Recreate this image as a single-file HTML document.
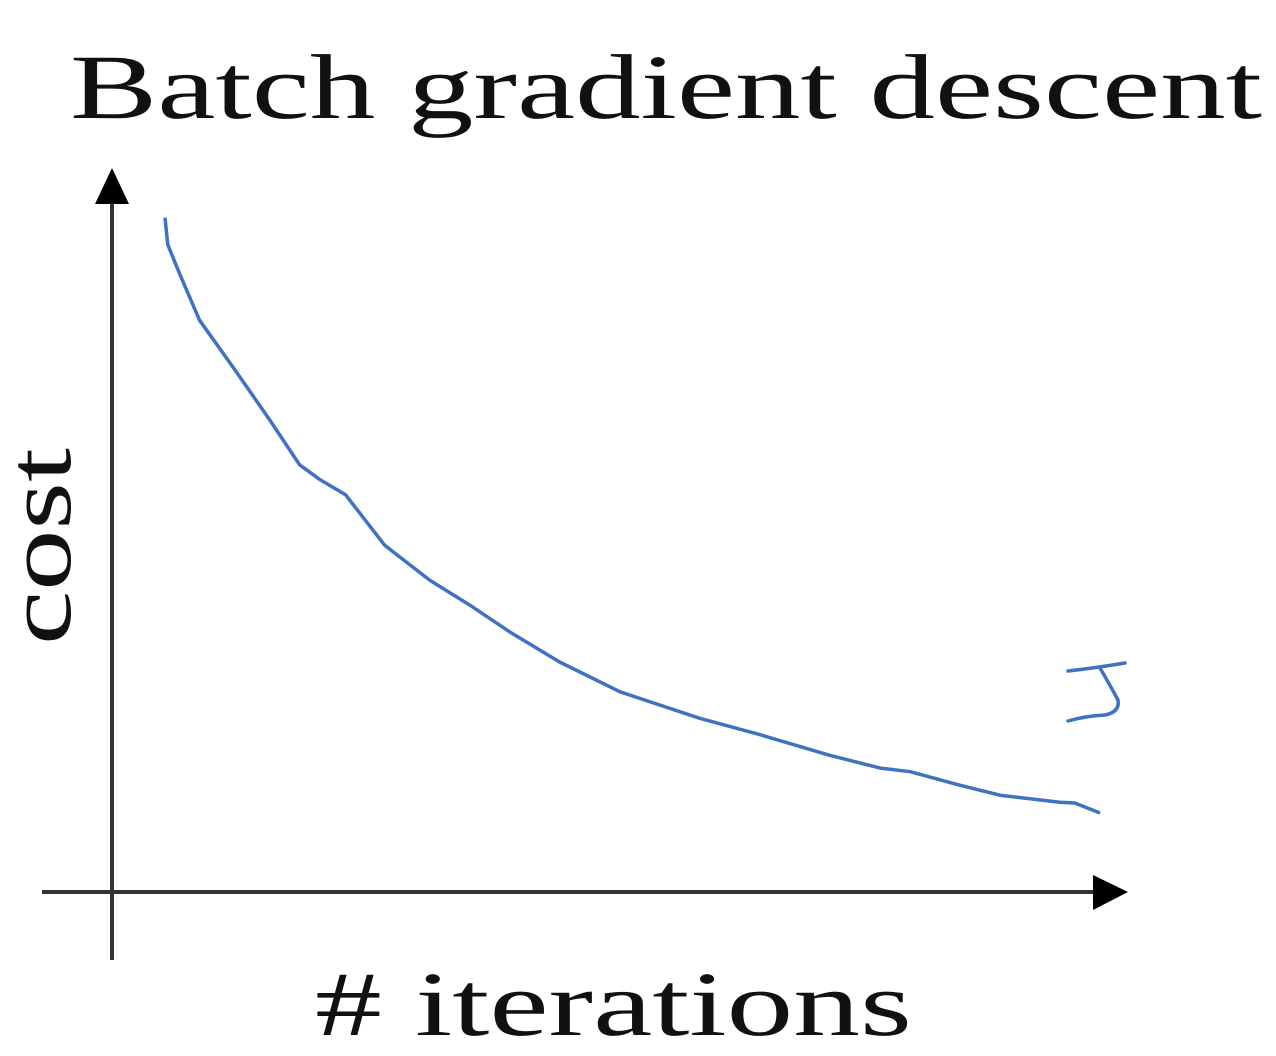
<!DOCTYPE html>
<html><head><meta charset="utf-8"><style>
html,body{margin:0;padding:0;background:#fff;}
svg{display:block;}
text{font-family:"Liberation Serif",serif;fill:#111;}
</style></head><body>
<svg width="1276" height="1056" viewBox="0 0 1276 1056">
<text x="70" y="118" font-size="92" textLength="1192" lengthAdjust="spacingAndGlyphs">Batch gradient descent</text>
<line x1="112" y1="200" x2="112" y2="960" stroke="#333" stroke-width="4"/>
<polygon points="112,168 95,204 129,204" fill="#000"/>
<line x1="42" y1="892" x2="1096" y2="892" stroke="#333" stroke-width="4"/>
<polygon points="1128,892 1093,875 1093,910" fill="#000"/>
<text transform="translate(70,645) rotate(-90)" font-size="92" textLength="197" lengthAdjust="spacingAndGlyphs">cost</text>
<text x="315" y="1035" font-size="92" textLength="597" lengthAdjust="spacingAndGlyphs"># iterations</text>
<path d="M1068,671 Q1095,668 1125,663 M1100,668 Q1110,685 1118,700 Q1120,712 1105,715 Q1085,716 1068,721" fill="none" stroke="#3f72c0" stroke-width="3.5" stroke-linecap="round"/>
<g id="series"></g>
</svg>
<script>
const iterations=[0,0.3,1.6,3.7,7.5,11.2,14.4,16.6,19.3,23.5,28.3,32.6,36.9,42.2,48.7,57.2,63.6,71.1,76.5,79.7,85.0,89.3,95.7,97.3,100];
const costValues=[9.47,9.09,8.67,8.03,7.33,6.63,6.00,5.79,5.58,4.87,4.38,4.03,3.65,3.23,2.81,2.44,2.21,1.92,1.74,1.69,1.50,1.36,1.26,1.25,1.11];
function xScale(v){return 165+v*9.35;}
function yScale(v){return 892-v*71.2;}
let d='';
iterations.forEach((it,i)=>{d+=(i?'L':'M')+xScale(it).toFixed(1)+','+yScale(costValues[i]).toFixed(1);});
const p=document.createElementNS('http://www.w3.org/2000/svg','path');
p.setAttribute('d',d);
p.setAttribute('fill','none');
p.setAttribute('stroke','#3f72c0');
p.setAttribute('stroke-width','3.5');
p.setAttribute('stroke-linejoin','round');


document.getElementById('series').appendChild(p);
</script>
</body></html>
